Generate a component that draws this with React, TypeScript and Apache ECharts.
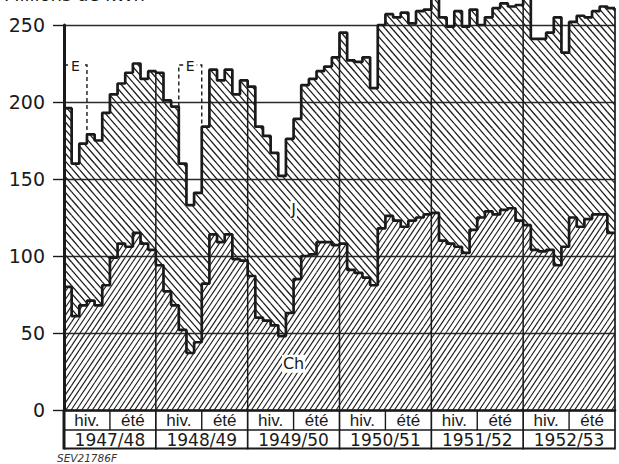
import React, { useEffect, useRef } from 'react';
import * as echarts from 'echarts';

// ---- data (Millions de kWh, monthly, hydrological years Oct–Sep) ----
const years = ['1947/48', '1948/49', '1949/50', '1950/51', '1951/52', '1952/53'];
const halves = ['hiv.', 'été'];

// top of the J area (J + Ch)
const totalTop = [
  196, 160, 173, 179, 175, 193, 205, 212, 219, 225, 215, 220,
  219, 201, 197, 160, 133, 141, 184, 221, 214, 221, 205, 214,
  210, 184, 178, 167, 152, 176, 189, 211, 215, 220, 223, 229,
  245, 227, 226, 229, 209, 250, 257, 255, 258, 251, 259, 260,
  268, 255, 249, 259, 249, 260, 250, 255, 261, 264, 262, 263,
  270, 241, 241, 245, 255, 232, 252, 256, 255, 259, 262, 261,
];

// top of the Ch area
const chTop = [
  80, 61, 68, 71, 68, 81, 99, 108, 106, 115, 108, 104,
  94, 77, 68, 52, 37, 44, 82, 114, 109, 114, 98, 97,
  87, 60, 58, 55, 48, 63, 85, 100, 101, 109, 109, 107,
  108, 91, 89, 86, 81, 118, 126, 123, 119, 123, 125, 127,
  128, 110, 108, 106, 102, 117, 125, 129, 127, 130, 131, 123,
  120, 104, 103, 104, 94, 106, 125, 119, 124, 127, 127, 115,
];

// dashed "E" boxes (month index start/end, top value)
const eStart = [0, 15];
const eEnd = [3, 18];
const eTop = [224, 224];

// area labels: text, month position, value position
const areaLabelText = ['J', 'Ch'];
const areaLabelMonth = [30, 30];
const areaLabelValue = [130, 30];

const INK = '#1a1a1a';

const HatchShape = (echarts as any).graphic.extendShape({
  type: 'hatch',
  shape: { segs: [] as number[] },
  buildPath(ctx: any, shape: any) {
    const s = shape.segs || [];
    for (let i = 0; i + 3 < s.length; i += 4) {
      ctx.moveTo(s[i], s[i + 1]);
      ctx.lineTo(s[i + 2], s[i + 3]);
    }
  },
});
(echarts as any).graphic.registerShape('hatch', HatchShape);

function hatchSegs(xa: number, xb: number, ya: number, yb: number, m: number, sh: number, dir: number) {
  const segs: number[] = [];
  if (xb - xa < 0.1 || yb - ya < 0.1) return segs;
  const step = m * sh;
  if (dir > 0) {
    const cmin = m * xa + ya;
    const cmax = m * xb + yb;
    for (let k = Math.ceil(cmin / step); k * step <= cmax; k++) {
      const c = k * step;
      const x0 = Math.max(xa, (c - yb) / m);
      const x1 = Math.min(xb, (c - ya) / m);
      if (x1 > x0) segs.push(x0, c - m * x0, x1, c - m * x1);
    }
  } else {
    const cmin = m * xa - yb;
    const cmax = m * xb - ya;
    for (let k = Math.ceil(cmin / step); k * step <= cmax; k++) {
      const c = k * step;
      const x0 = Math.max(xa, (c + ya) / m);
      const x1 = Math.min(xb, (c + yb) / m);
      if (x1 > x0) segs.push(x0, m * x0 - c, x1, m * x1 - c);
    }
  }
  return segs;
}

export default function App() {
  const ref = useRef<HTMLDivElement>(null);
  useEffect(() => {
    if (!ref.current) return;
    const chart = echarts.init(ref.current, undefined, { renderer: 'svg' });
    const n = totalTop.length;
    const monthData = totalTop.map((t, i) => [i, t, chTop[i]]);
    const stepTop = totalTop.map((t, i) => [i, t]).concat([[n, totalTop[n - 1]]]);
    const stepCh = chTop.map((t, i) => [i, t]).concat([[n, chTop[n - 1]]]);

    const option: any = {
      animation: false,
      backgroundColor: '#ffffff',
      grid: { left: 64, right: 4, top: 25, bottom: 54, containLabel: false, outerBoundsMode: 'none' },
      xAxis: {
        type: 'value', min: 0, max: n,
        axisLine: { show: true, onZero: true, lineStyle: { color: INK, width: 2.6 } },
        axisTick: { show: false }, axisLabel: { show: false }, splitLine: { show: false },
      },
      yAxis: {
        type: 'value', min: 0, max: 250, interval: 50,
        axisLine: { show: true, lineStyle: { color: INK, width: 3 } },
        axisTick: { show: true, length: 11, lineStyle: { color: INK, width: 1.4 } },
        axisLabel: { margin: 19, fontSize: 19, fontFamily: 'DejaVu Sans', color: INK },
        splitLine: { show: true, lineStyle: { color: '#2a2a2a', width: 1.3 } },
      },
      graphic: [
        { type: 'text', left: 4, top: -15, style: { text: 'Millions de kWh', fontSize: 18, fontFamily: 'DejaVu Sans', fill: INK } },
        { type: 'text', left: 57, top: 452, style: { text: 'SEV21786F', fontSize: 10.5, fontStyle: 'italic', fontFamily: 'DejaVu Sans', fill: '#333' } },
      ],
      series: [
        {
          type: 'custom', name: 'hatch', z: 2, silent: true,
          data: monthData, encode: { x: 0, y: 1 },
          renderItem: (params: any, api: any) => {
            const i = api.value(0);
            const t = api.value(1);
            const c = api.value(2);
            const pBase = api.coord([i, 0]);
            const pCh = api.coord([i + 1, c]);
            const pTop = api.coord([i + 1, t]);
            const xa = pBase[0], xb = pCh[0], y0 = pBase[1], yc = pCh[1];
            const yt = Math.max(pTop[1], -4);
            const children: any[] = [
              { type: 'hatch', shape: { segs: hatchSegs(xa, xb, yc, y0, 1.5, 5.3, 1) }, style: { stroke: '#1e1e1e', lineWidth: 1.15, fill: 'none' } },
              { type: 'hatch', shape: { segs: hatchSegs(xa, xb, yt, yc, 1.15, 6.8, -1) }, style: { stroke: '#1e1e1e', lineWidth: 1.3, fill: 'none' } },
            ];
            if (i % 12 === 0 && i > 0) {
              children.push({ type: 'line', shape: { x1: xa, y1: y0, x2: xa, y2: yt }, style: { stroke: INK, lineWidth: 1.5 } });
            }
            if (i === n - 1) {
              children.push({ type: 'line', shape: { x1: xb, y1: y0, x2: xb, y2: yt }, style: { stroke: INK, lineWidth: 1.7 } });
            }
            return { type: 'group', children };
          },
        },
        {
          type: 'line', name: 'Ch', step: 'end', data: stepCh, showSymbol: false, symbol: 'none',
          clip: false, z: 3, silent: true, lineStyle: { color: INK, width: 2.7 },
        },
        {
          type: 'line', name: 'J', step: 'end', data: stepTop, showSymbol: false, symbol: 'none',
          clip: false, z: 3, silent: true, lineStyle: { color: INK, width: 2.7 },
        },
        {
          type: 'custom', name: 'E', z: 4, silent: true,
          data: eStart.map((s, k) => [s, eTop[k], eEnd[k]]), encode: { x: 0, y: 1 },
          renderItem: (params: any, api: any) => {
            const s = api.value(0);
            const top = api.value(1);
            const e = api.value(2);
            const pL = api.coord([s, top]);
            const pR = api.coord([e, top]);
            const leftBase = s > 0 ? Math.max(totalTop[s - 1], totalTop[s]) : top;
            const rightBase = Math.max(totalTop[e - 1], totalTop[e]);
            const yL = api.coord([s, leftBase])[1];
            const yR = api.coord([e, rightBase])[1];
            const mid = api.coord([(s + e) / 2, top]);
            return {
              type: 'group',
              children: [
                { type: 'polyline', shape: { points: [[pL[0], yL], [pL[0], pL[1]], [pR[0], pR[1]], [pR[0], yR]] }, style: { stroke: INK, lineWidth: 1.4, lineDash: [4, 3], fill: 'none' } },
                { type: 'text', x: mid[0], y: mid[1] + 1, style: { text: 'E', fontSize: 14, fontFamily: 'DejaVu Sans', fill: INK, align: 'center', verticalAlign: 'middle', backgroundColor: '#fff', padding: [0, 2] } },
              ],
            };
          },
        },
        {
          type: 'custom', name: 'labels', z: 5, silent: true,
          data: areaLabelText.map((t, k) => [areaLabelMonth[k], areaLabelValue[k], k]), encode: { x: 0, y: 1 },
          renderItem: (params: any, api: any) => {
            const p = api.coord([api.value(0), api.value(1)]);
            const k = api.value(2);
            return {
              type: 'text', x: p[0], y: p[1],
              style: { text: areaLabelText[k], fontSize: 16, fontFamily: 'DejaVu Sans', fill: INK, align: 'center', verticalAlign: 'middle', backgroundColor: '#fff', padding: [1, 1] },
            };
          },
        },
        {
          type: 'custom', name: 'table', z: 6, silent: true,
          data: years.map((y, k) => [k * 12, 0, k]), encode: { x: 0, y: 1 },
          renderItem: (params: any, api: any) => {
            const s = api.value(0);
            const k = api.value(2);
            const pa = api.coord([s, 0]);
            const pm = api.coord([s + 6, 0]);
            const pb = api.coord([s + 12, 0]);
            const h1 = api.coord([s + 3, 0]);
            const h2 = api.coord([s + 9, 0]);
            const y0 = pa[1];
            const r1 = y0 + 20;
            const r2 = y0 + 38.5;
            const children: any[] = [
              { type: 'line', shape: { x1: pa[0], y1: r1, x2: pb[0], y2: r1 }, style: { stroke: INK, lineWidth: 1.5 } },
              { type: 'line', shape: { x1: pa[0], y1: r2, x2: pb[0], y2: r2 }, style: { stroke: INK, lineWidth: 2.2 } },
              { type: 'line', shape: { x1: pm[0], y1: y0, x2: pm[0], y2: r1 }, style: { stroke: INK, lineWidth: 1.4 } },
              { type: 'line', shape: { x1: pb[0], y1: y0, x2: pb[0], y2: r2 + 1 }, style: { stroke: INK, lineWidth: 1.7 } },
              { type: 'text', x: h1[0], y: (y0 + r1) / 2 + 0.5, style: { text: halves[0], fontSize: 17, fontFamily: 'Liberation Sans', fill: INK, align: 'center', verticalAlign: 'middle' } },
              { type: 'text', x: h2[0], y: (y0 + r1) / 2 + 0.5, style: { text: halves[1], fontSize: 17, fontFamily: 'Liberation Sans', fill: INK, align: 'center', verticalAlign: 'middle' } },
              { type: 'text', x: pm[0], y: (r1 + r2) / 2 + 0.5, style: { text: years[k], fontSize: 17, fontFamily: 'DejaVu Sans', fill: INK, align: 'center', verticalAlign: 'middle' } },
            ];
            if (k === 0) {
              children.push({ type: 'line', shape: { x1: pa[0], y1: y0, x2: pa[0], y2: r2 + 1 }, style: { stroke: INK, lineWidth: 3 } });
            }
            return { type: 'group', children };
          },
        },
      ],
    };
    chart.setOption(option);
    return () => chart.dispose();
  }, []);
  return (
    <div
      ref={ref}
      style={{ position: 'absolute', left: 0, top: 0, width: 619, height: 464, background: '#fff' }}
    />
  );
}
